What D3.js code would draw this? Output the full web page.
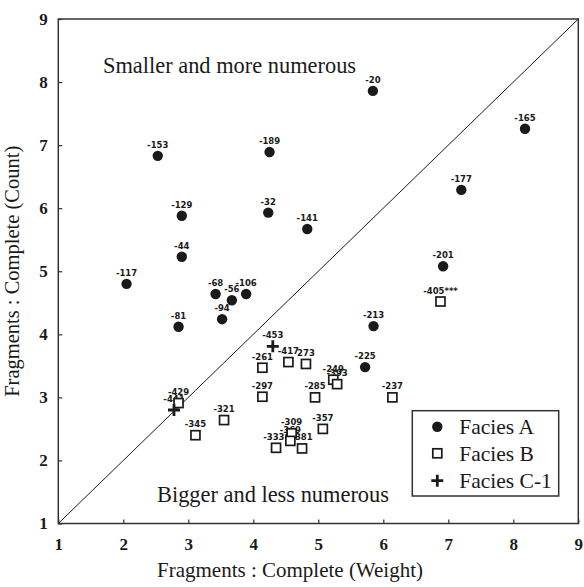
<!DOCTYPE html>
<html>
<head>
<meta charset="utf-8">
<script src="https://cdn.jsdelivr.net/npm/d3@7"></script>
<style>
  html, body { margin: 0; padding: 0; background: #fff; }
  svg { display: block; }
</style>
</head>
<body>
<svg id="chart" width="584" height="587"></svg>
<script>
// ---- data ----
const tickValues = [1, 2, 3, 4, 5, 6, 7, 8, 9];

const faciesAIds = ["-153","-189","-129","-32","-141","-44","-20","-165","-177","-201","-117","-68","-56","-106","-94","-81","-213","-225"];
const faciesAX   = [2.53, 4.25, 2.90, 4.23, 4.83, 2.90, 5.84, 8.18, 7.20, 6.92, 2.05, 3.42, 3.67, 3.89, 3.52, 2.85, 5.85, 5.72];
const faciesAY   = [6.83, 6.89, 5.88, 5.93, 5.67, 5.23, 7.86, 7.26, 6.29, 5.08, 4.80, 4.64, 4.54, 4.64, 4.24, 4.12, 4.13, 3.48];

const faciesBIds = ["-405***","-417","273","-261","-297","-285","-249","-393","-237","-429","-321","-345","-357","-309","-369","-333*","-381"];
const faciesBX   = [6.88, 4.54, 4.81, 4.14, 4.14, 4.95, 5.23, 5.29, 6.14, 2.85, 3.55, 3.11, 5.07, 4.59, 4.57, 4.35, 4.75];
const faciesBY   = [4.52, 3.56, 3.53, 3.47, 3.01, 3.00, 3.28, 3.21, 3.00, 2.91, 2.64, 2.40, 2.50, 2.43, 2.31, 2.20, 2.19];

const faciesCIds = ["-453","-441"];
const faciesCX   = [4.30, 2.78];
const faciesCY   = [3.81, 2.80];

const legendLabels = ["Facies A", "Facies B", "Facies C-1"];
const xTitle = "Fragments : Complete (Weight)";
const yTitle = "Fragments : Complete (Count)";
const upperNote = "Smaller and more numerous";
const lowerNote = "Bigger and less numerous";

// ---- build ----
const toPts = (ids, xs, ys) => ids.map((id, i) => ({ id, x: xs[i], y: ys[i] }));
const A = toPts(faciesAIds, faciesAX, faciesAY);
const B = toPts(faciesBIds, faciesBX, faciesBY);
const C = toPts(faciesCIds, faciesCX, faciesCY);

const svg = d3.select("#chart");
const x = d3.scaleLinear().domain([1, 9]).range([58.3, 578.3]);
const y = d3.scaleLinear().domain([1, 9]).range([523.5, 19]);
const ink = "#1a1a1a";
const serif = "'Liberation Serif', 'Times New Roman', serif";

// frame
svg.append("rect")
  .attr("x", x(1)).attr("y", y(9))
  .attr("width", x(9) - x(1)).attr("height", y(1) - y(9))
  .attr("fill", "none").attr("stroke", "#333").attr("stroke-width", 1.5);

// axes
const gx = svg.append("g").attr("transform", `translate(0,${y(1)})`)
  .call(d3.axisBottom(x).tickValues(tickValues).tickFormat(d3.format("d"))
    .tickSizeInner(-4).tickSizeOuter(0).tickPadding(14));
const gy = svg.append("g").attr("transform", `translate(${x(1)},0)`)
  .call(d3.axisLeft(y).tickValues(tickValues).tickFormat(d3.format("d"))
    .tickSizeInner(-4).tickSizeOuter(0).tickPadding(10.5));
[gx, gy].forEach(g => {
  g.select(".domain").remove();
  g.selectAll(".tick line").attr("stroke", "#333").attr("stroke-width", 1.2);
  g.selectAll(".tick text").attr("fill", ink)
    .style("font-family", serif).style("font-weight", "bold").style("font-size", "17px");
});

// diagonal
svg.append("line")
  .attr("x1", x(1)).attr("y1", y(1)).attr("x2", x(9)).attr("y2", y(9))
  .attr("stroke", ink).attr("stroke-width", 1);

// annotations
svg.append("text").attr("x", 103).attr("y", 73).text(upperNote)
  .style("font-family", serif).style("font-size", "22.4px").attr("fill", ink);
svg.append("text").attr("x", 157).attr("y", 502).text(lowerNote)
  .style("font-family", serif).style("font-size", "22.4px").attr("fill", ink);

// titles
svg.append("text").attr("x", 290).attr("y", 577).attr("text-anchor", "middle").text(xTitle)
  .style("font-family", serif).style("font-size", "21px").attr("fill", ink);
svg.append("text").attr("transform", `translate(19,${(y(1) + y(9)) / 2}) rotate(-90)`)
  .attr("text-anchor", "middle").text(yTitle)
  .style("font-family", serif).style("font-size", "20.5px").attr("fill", ink);

// point labels (drawn first, markers on top)
const all = A.concat(B, C);
svg.append("g").selectAll("text").data(all).join("text")
  .attr("x", d => x(d.x)).attr("y", d => y(d.y) - 8)
  .attr("text-anchor", "middle").text(d => d.id)
  .style("font-family", "'DejaVu Sans', sans-serif").style("font-weight", "bold")
  .style("font-size", "8.5px").attr("fill", ink);

// markers
const sq = 9;
svg.append("g").selectAll("rect").data(B).join("rect")
  .attr("x", d => x(d.x) - sq / 2).attr("y", d => y(d.y) - sq / 2)
  .attr("width", sq).attr("height", sq)
  .attr("fill", "#fff").attr("stroke", ink).attr("stroke-width", 1.7);
svg.append("g").selectAll("circle").data(A).join("circle")
  .attr("cx", d => x(d.x)).attr("cy", d => y(d.y)).attr("r", 5.2).attr("fill", ink);
const plus = "M-6,0H6M0,-6V6";
svg.append("g").selectAll("path").data(C).join("path")
  .attr("transform", d => `translate(${x(d.x)},${y(d.y)})`)
  .attr("d", plus).attr("stroke", ink).attr("stroke-width", 2.8).attr("fill", "none");

// legend
const lg = svg.append("g");
lg.append("rect").attr("x", 412.3).attr("y", 410.7).attr("width", 146.4).attr("height", 85.3)
  .attr("fill", "#fff").attr("stroke", "#333").attr("stroke-width", 1.5);
const rowY = [426.7, 453.3, 480.7];
const mx = 437.3;
lg.append("circle").attr("cx", mx).attr("cy", rowY[0]).attr("r", 5.2).attr("fill", ink);
lg.append("rect").attr("x", mx - 4.5).attr("y", rowY[1] - 4.5).attr("width", 9).attr("height", 9)
  .attr("fill", "#fff").attr("stroke", ink).attr("stroke-width", 1.7);
lg.append("path").attr("transform", `translate(${mx},${rowY[2]})`).attr("d", plus)
  .attr("stroke", ink).attr("stroke-width", 2.8);
lg.selectAll("text.l").data(legendLabels).join("text").attr("class", "l")
  .attr("x", 459.3).attr("y", (d, i) => rowY[i] + 7.5).text(d => d)
  .style("font-family", serif).style("font-size", "21.5px").attr("fill", ink);
</script>
</body>
</html>
